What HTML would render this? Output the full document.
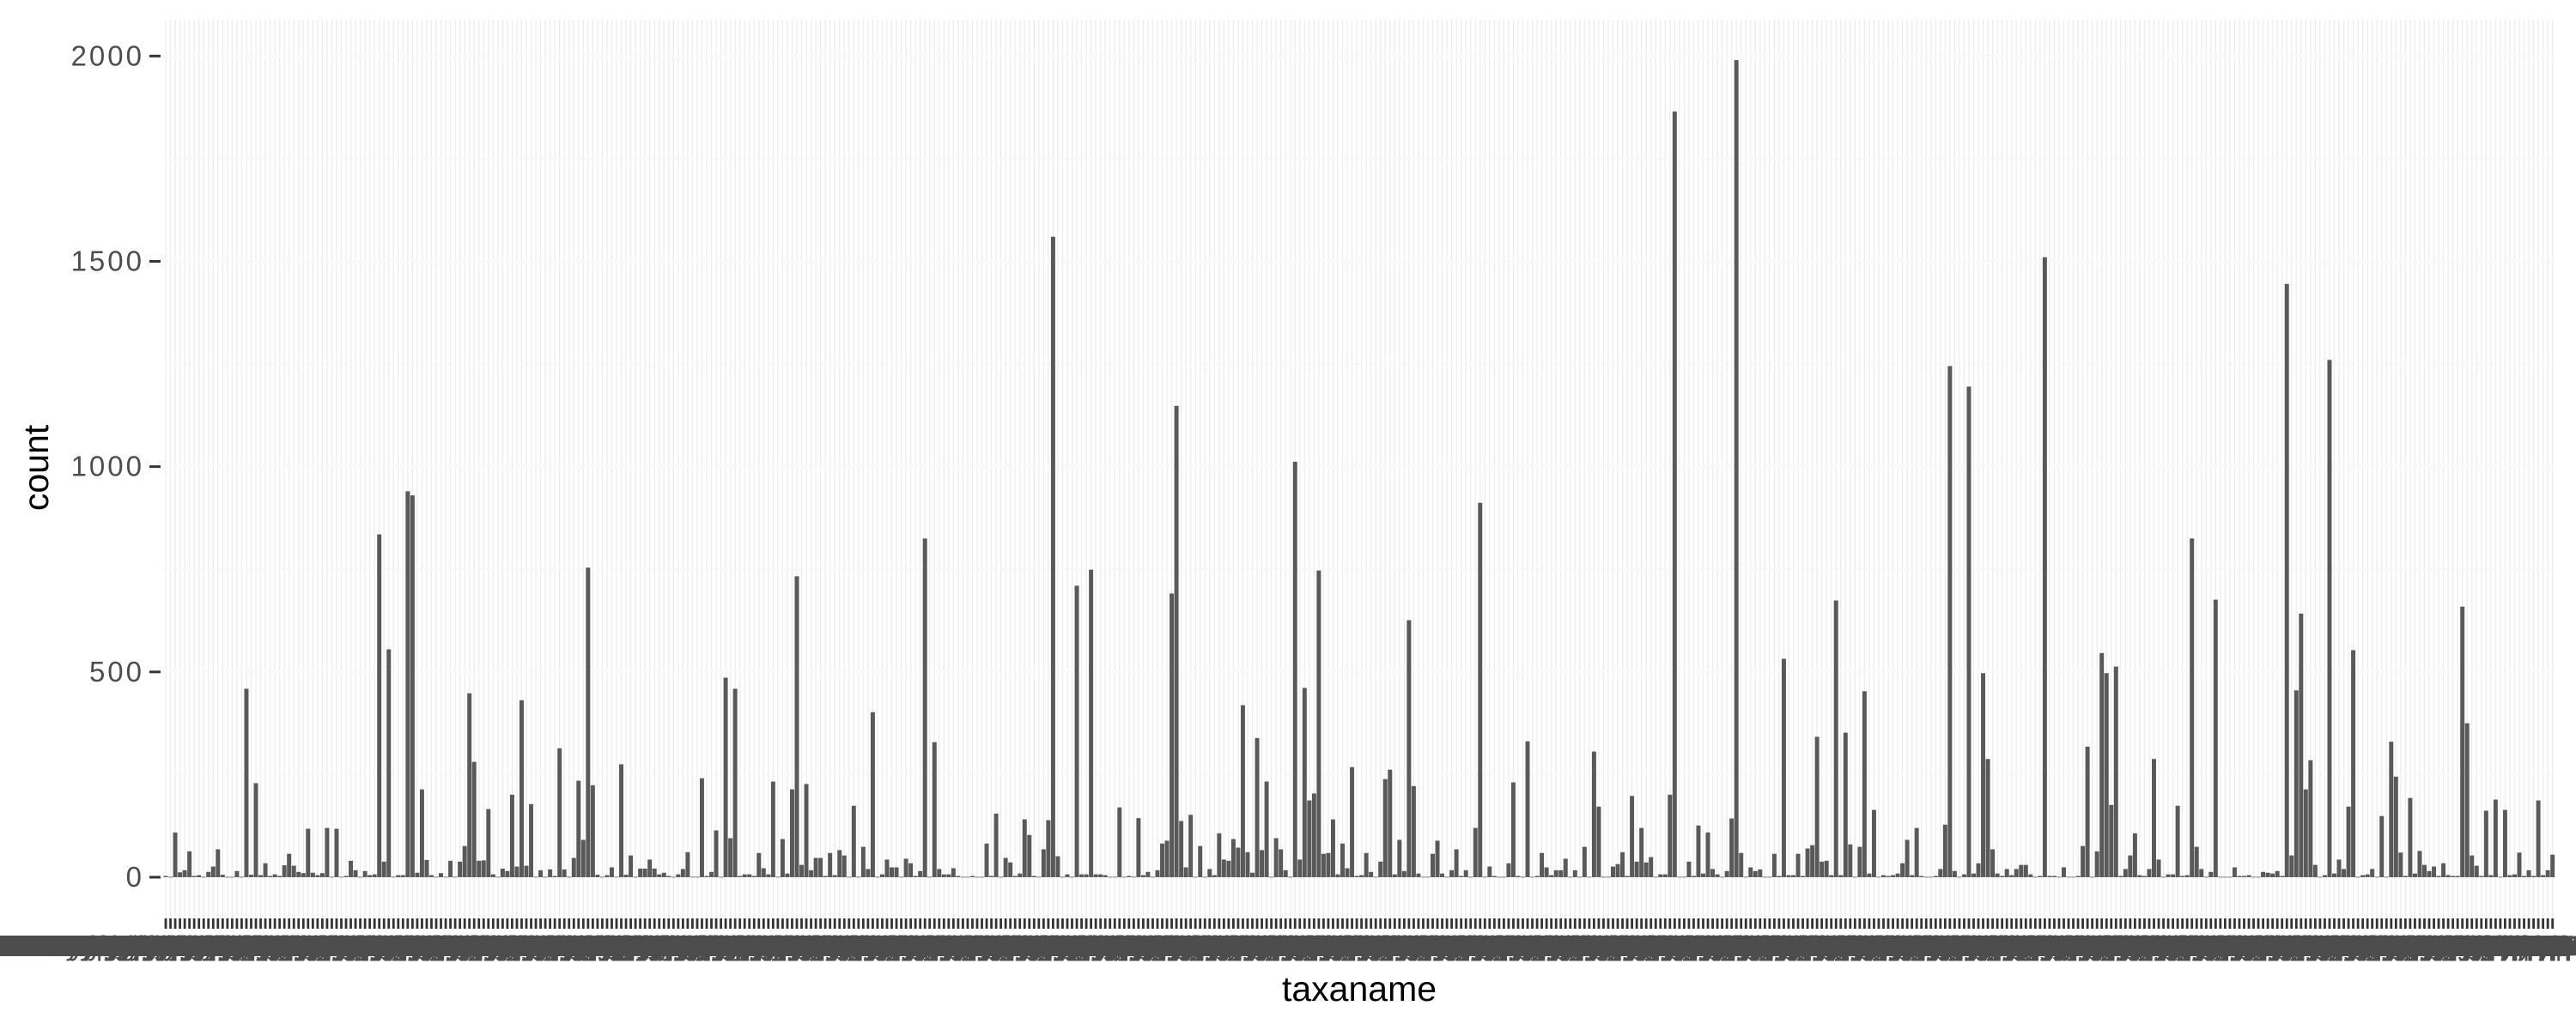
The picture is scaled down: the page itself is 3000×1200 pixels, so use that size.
<!DOCTYPE html>
<html>
<head>
<meta charset="utf-8">
<style>
  html,body{margin:0;padding:0;background:#fff;}
  body{width:3000px;height:1200px;overflow:hidden;}
  svg{display:block;}
</style>
</head>
<body>
<svg id="chart" width="3000" height="1200" viewBox="0 0 3000 1200" xmlns="http://www.w3.org/2000/svg">
  <g id="grid"></g>
  <g id="bars"></g>
  <g id="xticks"></g>
  <rect x="0" y="1090" width="2990" height="24" fill="#4d4d4d"></rect>
  <g id="xlabels"></g>
  <g id="yaxis"></g>
  <text x="1583" y="1166" text-anchor="middle" font-family="Liberation Sans, DejaVu Sans, sans-serif" font-size="41" fill="#000">taxaname</text>
  <text transform="translate(56,545) rotate(-90)" text-anchor="middle" font-family="Liberation Sans, DejaVu Sans, sans-serif" font-size="41" fill="#000">count</text>
</svg>
<script>
const counts = [
3,1,109,12,17,63,3,5,1,13,26,68,6,1,1,15,1,459,6,229,5,34,3,7,3,29,57,28,13,10,118,11,5,10,120,1,118,1,3,40,17,1,15,5,7,835,38,555,1,5,5,940,930,11,214,42,5,1,10,1,40,1,38,76,448,281,40,41,166,7,1,21,15,201,26,431,28,178,1,17,1,19,3,314,19,
1,47,235,91,754,224,6,1,5,24,1,275,6,53,1,21,21,43,21,7,11,3,1,7,20,61,1,1,241,3,13,114,1,486,95,459,3,7,7,3,59,22,7,233,1,93,9,214,733,30,227,17,47,47,3,59,5,66,53,1,174,1,74,20,402,1,7,43,24,24,1,45,34,3,15,825,1,329,20,7,7,22,3,1,
1,3,1,1,82,3,155,1,47,36,3,9,141,103,3,1,68,139,1560,51,1,7,1,710,7,7,749,7,7,5,1,1,170,1,3,1,144,5,13,1,17,82,89,691,1148,137,24,152,1,76,1,20,5,107,43,40,93,72,419,61,11,339,66,233,1,95,68,17,1,1012,43,461,187,204,747,57,59,141,7,82,22,268,3,5,
59,13,1,38,239,262,7,91,15,626,222,9,1,1,57,89,9,1,17,68,3,17,1,120,912,1,26,3,1,1,34,231,3,1,331,1,3,59,24,5,17,17,45,1,17,1,74,1,306,172,1,1,26,32,61,3,198,38,120,36,49,1,7,7,201,1865,1,1,38,3,126,9,109,20,7,1,15,143,1990,59,1,24,15,19,
1,1,57,3,532,5,5,57,3,70,78,342,38,40,5,674,5,352,80,1,74,453,9,164,1,5,3,5,9,34,91,5,120,3,1,1,3,20,128,1245,15,1,7,1195,9,34,497,288,68,9,3,20,5,20,30,30,7,1,3,1510,3,3,1,24,1,1,3,76,318,1,63,546,497,176,513,3,20,53,107,5,3,20,288,43,
1,7,7,174,3,5,825,74,20,1,13,676,1,1,1,24,3,3,5,1,1,13,11,9,15,3,1445,53,455,642,214,285,30,1,5,1260,9,43,20,172,553,1,5,7,20,1,149,1,330,245,60,3,193,9,64,30,15,26,3,34,5,3,3,659,375,53,28,3,162,5,189,1,164,5,7,60,3,17,3,187,5,17,55
];
const genera = ['Gymnopilus','Polypora','Hypogymnia','Pyrgophyta','Bryophyllum','Cyphellopsis','Glyptopora','Physcomyria'];
const categories = counts.map((v, i) => genera[i % genera.length] + ' sp. ' + String(i + 1).padStart(3, '0'));
const yTicks = [0, 500, 1000, 1500, 2000];
const yTickLabels = ['0', '500', '1000', '1500', '2000'];
const yMinorTicks = [250, 750, 1250, 1750];

const NS = 'http://www.w3.org/2000/svg';
const panelLeft = 189.7, panelRight = 2976, panelTop = 23, panelBottom = 1070;
const n = categories.length;
const step = (panelRight - panelLeft) / (n - 1 + 1.2);
function xScale(i) { return panelLeft + step * (0.6 + i); }
function yScale(v) { return 1022 - v * 0.47835; }

function mk(tag, attrs, parent) {
  const el = document.createElementNS(NS, tag);
  for (const k in attrs) el.setAttribute(k, attrs[k]);
  parent.appendChild(el);
  return el;
}
const grid = document.getElementById('grid');
const barsG = document.getElementById('bars');
const ticksG = document.getElementById('xticks');
const labelsG = document.getElementById('xlabels');
const yG = document.getElementById('yaxis');

for (let i = 0; i < n; i++) {
  const x = xScale(i);
  const l = mk('line', {x1: x, x2: x, y1: panelTop, y2: panelBottom, stroke: '#ebebeb', 'stroke-width': 1.2}, grid);
  
  
}
yMinorTicks.forEach(v => {
  const y = yScale(v);
  const l = mk('line', {x1: panelLeft, x2: panelRight, y1: y, y2: y, stroke: '#f7f7f7', 'stroke-width': 1.5}, grid);
  
  
});
yTicks.forEach(v => {
  const y = yScale(v);
  const l = mk('line', {x1: panelLeft, x2: panelRight, y1: y, y2: y, stroke: '#f9f9f9', 'stroke-width': 3}, grid);
  
  
});

const bw = step * 0.9;
counts.forEach((v, i) => {
  const y = yScale(v);
  const r = mk('rect', {x: xScale(i) - bw / 2, y: y, width: bw, height: Math.max(0.8, yScale(0) - y), fill: '#595959'}, barsG);
  
  
});

categories.forEach((c, i) => {
  const x = xScale(i);
  const t = mk('rect', {x: x - 1.4, y: 1070, width: 2.8, height: 12, fill: '#333'}, ticksG);
  
  
  const tx = mk('text', {x: x, y: 1113, 'text-anchor': 'middle', 'font-family': 'Liberation Sans, DejaVu Sans, sans-serif', 'font-size': 32, fill: '#4d4d4d'}, labelsG);
  tx.textContent = c;
  
  
});

yTicks.forEach((v, i) => {
  const y = yScale(v);
  const t = mk('line', {x1: 174, x2: 187, y1: y, y2: y, stroke: '#333', 'stroke-width': 3}, yG);
  
  
  const tx = mk('text', {x: 168, y: y + 11, 'text-anchor': 'end', 'font-family': 'Liberation Sans, DejaVu Sans, sans-serif', 'font-size': 33, 'letter-spacing': 3, fill: '#4d4d4d'}, yG);
  tx.textContent = yTickLabels[i];
  
  
});
</script>
</body>
</html>
